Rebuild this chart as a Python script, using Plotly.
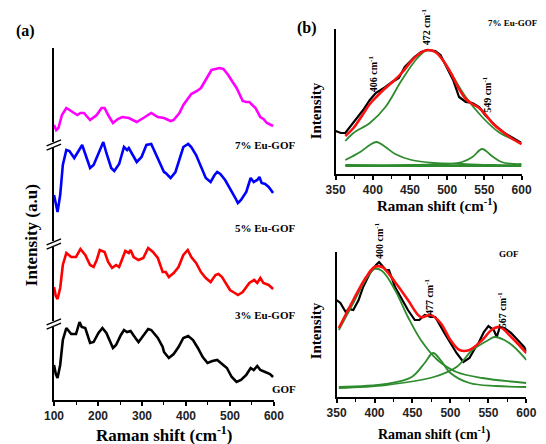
import plotly.graph_objects as go

W, H = 546, 444

# ---------------- Panel (a) data (stacked, arbitrary units) ----------------
x_7 = [100, 105, 110, 118, 128, 142, 153, 160, 168, 182, 197, 208, 215, 223, 234, 245, 255, 270, 288, 303,
       321, 336, 350, 365, 372, 385, 394, 412, 425, 434, 449, 458, 467, 476, 485, 496, 506, 515, 529, 537,
       544, 550, 558, 569, 576, 584, 592, 598]
y_7 = [275, 270, 272, 285, 292, 288, 285, 287, 287, 280, 285, 292, 292, 285, 277, 281, 283, 282, 278, 282,
       287, 283, 282, 279, 280, 287, 295, 306, 309, 312, 323, 330, 331, 332, 331, 325, 318, 312, 299, 298,
       298, 295, 292, 283, 281, 277, 275, 274]

x_5 = [100, 104, 108, 114, 120, 128, 135, 146, 153, 164, 175, 182, 190, 201, 212, 219, 230, 237, 248, 259,
       266, 270, 281, 288, 299, 310, 321, 327, 340, 350, 354, 365, 376, 385, 394, 405, 412, 423, 434, 445,
       456, 465, 471, 478, 489, 500, 511, 518, 525, 537, 547, 554, 562, 567, 572, 580, 588, 598]
y_5 = [205, 195, 188, 205, 235, 250, 249, 242, 247, 255, 241, 232, 235, 247, 258, 247, 232, 229, 236, 253,
       250, 252, 243, 238, 243, 255, 256, 250, 238, 228, 227, 222, 228, 240, 253, 256, 253, 245, 233, 222,
       218, 225, 228, 226, 220, 212, 203, 197, 200, 208, 222, 218, 220, 223, 217, 216, 213, 207]

x_3 = [100, 104, 108, 114, 120, 128, 139, 150, 160, 171, 182, 190, 197, 204, 215, 223, 232, 241, 248, 259,
       262, 270, 274, 281, 292, 303, 314, 325, 336, 347, 354, 361, 372, 383, 394, 404, 412, 423, 434, 445,
       456, 467, 474, 482, 489, 500, 511, 518, 529, 544, 555, 562, 569, 576, 588, 598]
y_3 = [113, 104, 101, 112, 135, 147, 143, 143, 151, 145, 135, 133, 140, 150, 148, 138, 132, 135, 133, 145,
       149, 147, 150, 143, 140, 142, 152, 148, 142, 128, 128, 123, 127, 133, 145, 150, 143, 137, 128, 122,
       118, 125, 126, 123, 118, 110, 107, 105, 108, 117, 120, 117, 122, 117, 115, 111]

x_g = [100, 104, 108, 114, 120, 128, 139, 150, 158, 163, 171, 182, 190, 201, 210, 219, 234, 241, 252, 259,
       266, 274, 285, 292, 299, 314, 321, 336, 347, 350, 361, 372, 383, 394, 405, 416, 427, 438, 449, 460,
       471, 482, 493, 504, 515, 525, 537, 547, 554, 562, 569, 580, 591, 598]
y_g = [35, 26, 22, 35, 60, 72, 66, 66, 78, 73, 72, 57, 58, 67, 72, 67, 52, 55, 65, 70,
       68, 69, 62, 58, 62, 71, 70, 62, 53, 48, 42, 46, 53, 62, 64, 60, 52, 43, 37, 39,
       40, 36, 32, 23, 18, 20, 25, 32, 30, 34, 30, 28, 26, 23]

labels_a = ["7% Eu-GOF", "5% Eu-GOF", "3% Eu-GOF", "GOF"]

# ---------------- Panel (b) top: 7% Eu-GOF ----------------
xb1_data = [350, 357, 363, 374, 387, 396, 404, 417, 426, 435, 443, 456, 465, 473, 484, 491, 499, 508, 516, 525,
            534, 543, 551, 564, 577, 586, 597, 600]
yb1_data = [43, 41, 41, 51, 64, 74, 81, 87, 92, 96, 107, 117, 122, 124, 123, 119, 107, 94, 77, 72,
            71, 67, 59, 49, 41, 37, 32, 31]
xb1_fit = [363, 374, 387, 396, 406, 417, 428, 440, 452, 462, 473, 484, 495, 505, 516, 525, 534, 543, 551, 562,
           575, 586, 600]
yb1_fit = [38, 46, 60, 70, 78, 86, 93, 102, 113, 120, 124, 122, 113, 101, 85, 75, 70, 66, 60, 50,
           42, 36, 30]
xb1_c472 = [363, 374, 396, 417, 439, 460, 473, 486, 504, 525, 547, 569, 590, 600]
yb1_c472 = [33, 41, 51, 67, 94, 116, 124, 121, 102, 77, 57, 42, 34, 30]
xb1_c406 = [363, 383, 396, 405, 417, 430, 452, 482, 520, 560, 600]
yb1_c406 = [14, 22, 29, 32, 27, 20, 14, 11, 10, 9, 9]
xb1_c549 = [363, 450, 500, 520, 534, 547, 560, 573, 590, 600]
yb1_c549 = [9, 9, 10, 12, 17, 25, 18, 12, 10, 10]
xb1_base = [363, 600]
yb1_base = [8, 8]
peaks_b1 = [406, 472, 549]

# ---------------- Panel (b) bottom: GOF ----------------
xb2_data = [350, 355, 362, 366, 372, 379, 385, 394, 402, 406, 415, 419, 427, 436, 444, 453, 459, 466, 474, 480,
            487, 492, 500, 508, 517, 525, 531, 537, 544, 550, 557, 561, 565, 571, 580, 588, 597, 600]
yb2_data = [97, 94, 85, 88, 87, 97, 110, 124, 132, 135, 127, 127, 110, 97, 87, 77, 77, 82, 80, 80,
            70, 64, 54, 44, 35, 39, 47, 54, 65, 71, 67, 60, 70, 69, 64, 57, 50, 46]
xb2_fit = [353, 372, 389, 400, 410, 427, 444, 461, 474, 487, 500, 512, 525, 542, 554, 565, 580, 600]
yb2_fit = [69, 97, 120, 130, 130, 115, 97, 80, 82, 74, 57, 47, 47, 57, 67, 70, 60, 44]
xb2_c400 = [353, 372, 389, 400, 410, 427, 444, 461, 483, 508, 542, 600]
yb2_c400 = [67, 94, 118, 128, 126, 107, 80, 57, 37, 25, 19, 14]
xb2_c477 = [353, 415, 449, 466, 477, 487, 500, 525, 560, 600]
yb2_c477 = [10, 13, 20, 34, 44, 37, 24, 14, 11, 10]
xb2_c567 = [353, 415, 478, 508, 529, 550, 558, 571, 584, 600]
yb2_c567 = [9, 12, 20, 30, 47, 57, 60, 57, 50, 37]
peaks_b2 = [400, 477, 567]

# ---------------- figure ----------------
def px(x):
    return x / W


def py(y):
    return 1 - y / H


fig = go.Figure()
GREEN = "#2e8b2e"
SERIF = "Liberation Serif"
SANS = "Liberation Sans"

# panel a traces
for xs, ys, col in [(x_7, y_7, "#ff00ff"), (x_5, y_5, "#0000ff"), (x_3, y_3, "#ff0000"), (x_g, y_g, "#000000")]:
    fig.add_trace(go.Scatter(x=xs, y=ys, mode="lines", line=dict(color=col, width=2.6),
                             xaxis="x", yaxis="y", showlegend=False))

# panel b top
fig.add_trace(go.Scatter(x=xb1_data, y=yb1_data, mode="lines", line=dict(color="#000", width=2.2),
                         xaxis="x2", yaxis="y2", showlegend=False))
for xs, ys in [(xb1_c472, yb1_c472), (xb1_c406, yb1_c406), (xb1_c549, yb1_c549), (xb1_base, yb1_base)]:
    fig.add_trace(go.Scatter(x=xs, y=ys, mode="lines", line=dict(color=GREEN, width=1.8, shape="spline"),
                             xaxis="x2", yaxis="y2", showlegend=False))
fig.add_trace(go.Scatter(x=xb1_fit, y=yb1_fit, mode="lines", line=dict(color="#ff1010", width=2.6, shape="spline"),
                         xaxis="x2", yaxis="y2", showlegend=False))

# panel b bottom
fig.add_trace(go.Scatter(x=xb2_data, y=yb2_data, mode="lines", line=dict(color="#000", width=2.2),
                         xaxis="x3", yaxis="y3", showlegend=False))
for xs, ys in [(xb2_c400, yb2_c400), (xb2_c477, yb2_c477), (xb2_c567, yb2_c567)]:
    fig.add_trace(go.Scatter(x=xs, y=ys, mode="lines", line=dict(color=GREEN, width=1.8, shape="spline"),
                             xaxis="x3", yaxis="y3", showlegend=False))
fig.add_trace(go.Scatter(x=xb2_fit, y=yb2_fit, mode="lines", line=dict(color="#ff1010", width=2.6, shape="spline"),
                         xaxis="x3", yaxis="y3", showlegend=False))

tickfont = dict(family=SANS, size=12, color="#222", weight="bold")
base_x = dict(showline=True, linecolor="#000", linewidth=2, ticks="outside", ticklen=4, tickwidth=1.5,
              tickcolor="#000", showgrid=False, zeroline=False, tickfont=tickfont)
common_y = dict(showline=True, linecolor="#000", linewidth=2, ticks="", showticklabels=False,
                showgrid=False, zeroline=False)

fig.update_layout(
    width=W, height=H, margin=dict(l=0, r=0, t=0, b=0),
    paper_bgcolor="white", plot_bgcolor="white",
    xaxis=dict(domain=[px(45.7), px(274)], range=[100, 600], tickvals=[100, 200, 300, 400, 500, 600],
               anchor="y", **base_x,
               minor=dict(ticks="outside", ticklen=3, tickwidth=1, tickcolor="#000", dtick=50)),
    yaxis=dict(domain=[py(400), py(48)], range=[0, 352], anchor="x", **common_y),
    xaxis2=dict(domain=[px(338), px(531)], range=[350, 600], dtick=50, anchor="y2", **base_x,
                minor=dict(ticks="outside", ticklen=3, tickwidth=1, tickcolor="#000", dtick=25)),
    yaxis2=dict(domain=[py(174), py(29)], range=[0, 145], anchor="x2", **common_y),
    xaxis3=dict(domain=[px(339), px(536)], range=[350, 600], dtick=50, anchor="y3", **base_x,
                minor=dict(ticks="outside", ticklen=3, tickwidth=1, tickcolor="#000", dtick=25)),
    yaxis3=dict(domain=[py(397), py(252)], range=[0, 145], anchor="x3", **common_y),
)

ann = []


def add_text(x, y, text, size, family=SERIF, angle=0, weight="bold", color="#000", xanchor="center"):
    ann.append(dict(x=px(x), y=py(y), xref="paper", yref="paper", text=text, showarrow=False,
                    textangle=angle, xanchor=xanchor, yanchor="middle",
                    font=dict(family=family, size=size, color=color, weight=weight)))


add_text(16, 31, "(a)", 16)
add_text(308, 28, "(b)", 16)
add_text(22, 235, "Intensity (a.u)", 17, angle=-90)
add_text(160, 434, "Raman shift (cm<sup>-1</sup>)", 17)
add_text(318, 111, "Intensity", 15, angle=-90)
add_text(443, 206, "Raman shift (cm<sup>-1</sup>)", 15)
add_text(318, 331, "Intensity", 15, angle=-90)
add_text(441, 433, "Raman shift (cm<sup>-1</sup>)", 14)

# curve labels in panel a
for (yy, xx), lab in zip([(145, 265), (228, 265), (315, 265), (389, 284)], labels_a):
    add_text(xx, yy, lab, 11)

add_text(494, 23, "7% Eu-GOF", 9, xanchor="left")
add_text(518, 254, "GOF", 9)

# peak labels
for (xx, yy), p in zip([(377, 74), (432, 27), (495, 94)], peaks_b1):
    add_text(xx, yy, f"{p} cm<sup>-1</sup>", 10, angle=-90)
for (xx, yy), p in zip([(383, 240), (435, 297), (511, 310)], peaks_b2):
    add_text(xx, yy, f"{p} cm<sup>-1</sup>", 10, angle=-90)

fig.update_layout(annotations=ann)

# axis break marks in panel a
shapes = []
for yb in [145, 244, 324]:
    shapes.append(dict(type="line", xref="paper", yref="paper", x0=px(45.7), x1=px(45.7),
                       y0=py(yb - 3), y1=py(yb + 3), line=dict(color="white", width=4)))
    for d in (-2.2, 2.2):
        shapes.append(dict(type="line", xref="paper", yref="paper", x0=px(38), x1=px(53),
                           y0=py(yb + d + 3), y1=py(yb + d - 3), line=dict(color="#000", width=1.3)))
fig.update_layout(shapes=shapes)

fig.write_html("out.html")
